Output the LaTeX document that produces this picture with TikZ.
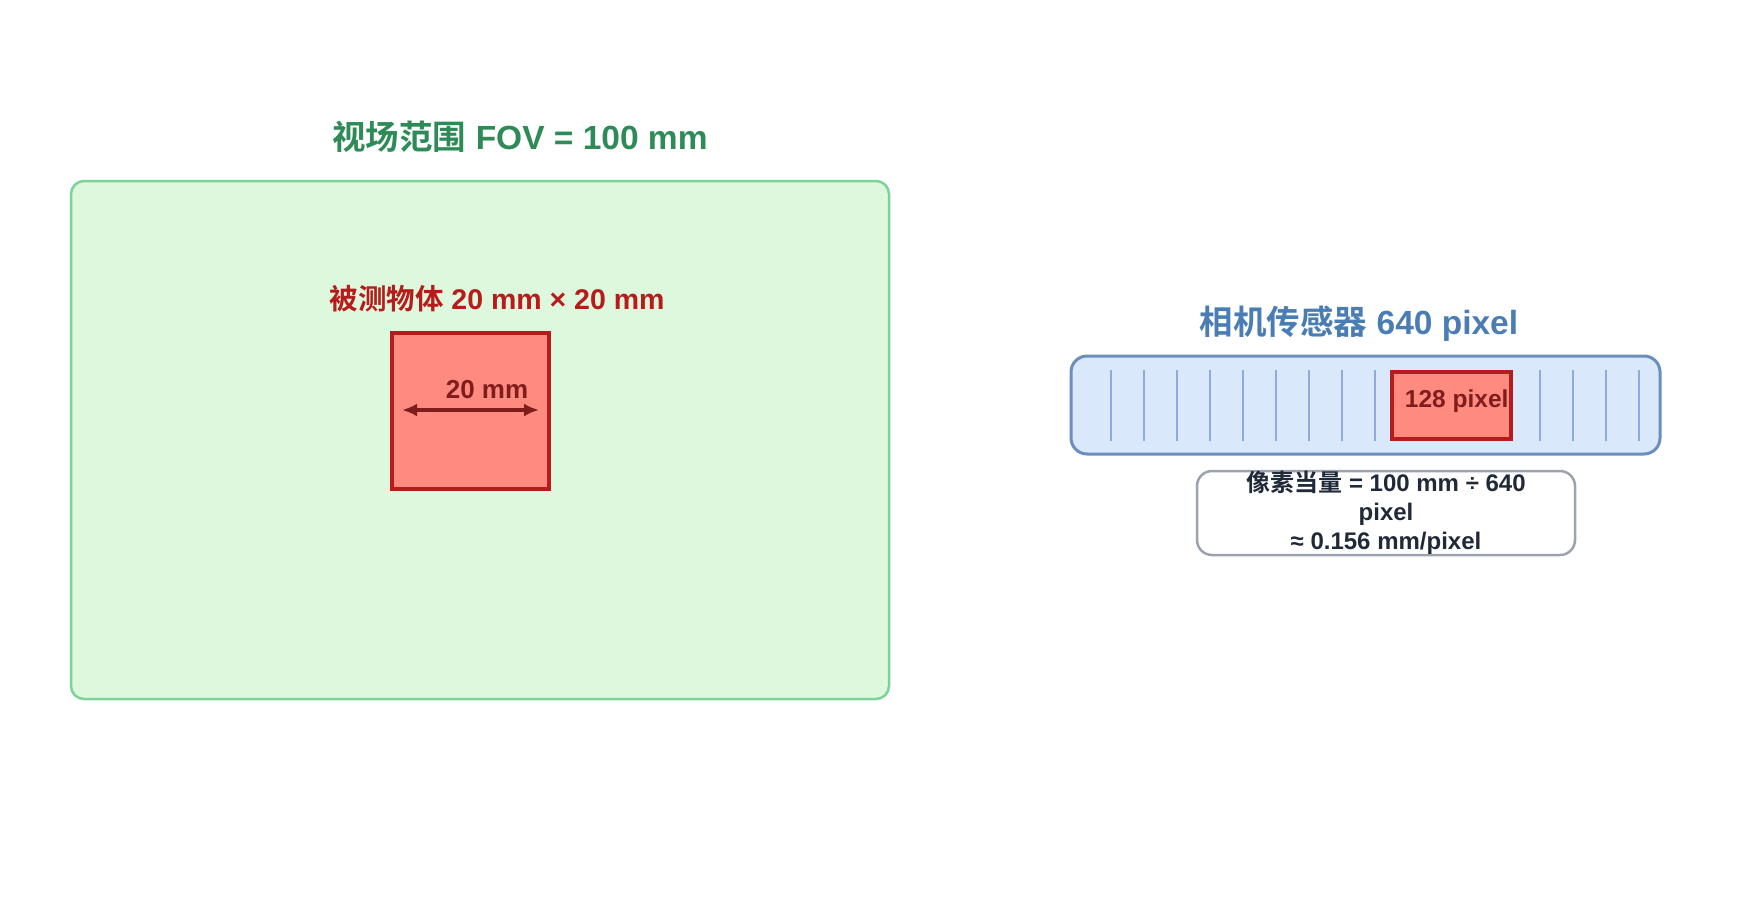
\documentclass[tikz,border=0pt]{standalone}
\usepackage{fontspec}
\setmainfont{Liberation Sans}
\newfontfamily\cjk{Noto Sans CJK SC}[BoldFont={Noto Sans CJK SC Bold}]
\usepackage{xcolor}
\usepackage{tikz}
\usetikzlibrary{calc, arrows.meta, positioning}

\definecolor{fovfill}{RGB}{222,248,222}
\definecolor{fovline}{RGB}{125,210,150}
\definecolor{fovtext}{RGB}{46,139,87}
\definecolor{objfill}{RGB}{255,138,128}
\definecolor{objline}{RGB}{183,28,28}
\definecolor{objdark}{RGB}{127,29,29}
\definecolor{senfill}{RGB}{218,232,252}
\definecolor{senline}{RGB}{108,142,191}
\definecolor{sentext}{RGB}{74,125,180}
\definecolor{pixline}{RGB}{143,170,220}
\definecolor{formline}{RGB}{156,163,175}
\definecolor{formtext}{RGB}{31,41,55}

\tikzset{
    bigtitle/.style={font=\fontsize{33.5}{40}\selectfont\bfseries, anchor=base},
    midlabel/.style={font=\fontsize{28.5}{34}\selectfont\bfseries, anchor=base},
    fovbox/.style={draw=fovline, fill=fovfill, line width=2.5pt, rounded corners=13pt, inner sep=0pt},
    objbox/.style={draw=objline, fill=objfill, line width=4pt, inner sep=0pt},
    senbox/.style={draw=senline, fill=senfill, line width=3pt, rounded corners=16pt, inner sep=0pt},
    formbox/.style={draw=formline, fill=white, line width=2.5pt, rounded corners=15pt, inner sep=0pt,
        align=center, text=formtext, font=\fontsize{24}{29}\selectfont\bfseries},
    dimarrow/.style={{Latex[length=15pt,width=13pt]}-{Latex[length=15pt,width=13pt]}, draw=objdark, line width=3.5pt}
}

\begin{document}
\begin{tikzpicture}[x=1pt, y=-1pt]
    \useasboundingbox (0,0) rectangle (1760,900);
    % Field of view
    \node[fovbox, minimum width=818pt, minimum height=518pt] (fov) at (480,440) {};
    \node[bigtitle, text=fovtext] (fovtitle) at (520,149.3) {{\cjk 视场范围} FOV = 100 mm};
    % Object
    \node[midlabel, text=objline] (objtitle) at (497,309.3) {{\cjk 被测物体} 20 mm × 20 mm};
    \node[objbox, minimum width=157pt, minimum height=156pt] (obj) at (470.5,411) {};
    \coordinate (dimL) at (402,410);
    \coordinate (dimR) at (539,410);
    \draw[dimarrow] (dimL) -- (dimR);
    \node[font=\fontsize{26}{31}\selectfont\bfseries, text=objdark, anchor=base] (objdim) at (487,398.3) {20 mm};
    % Camera sensor
    \node[bigtitle, text=sentext] (sentitle) at (1359,334.3) {{\cjk 相机传感器} 640 pixel};
    \node[senbox, minimum width=589pt, minimum height=98pt] (sensor) at (1365.5,405) {};
    \foreach \k in {0,...,16}
        \draw[pixline, line width=2pt] (1110.7+33*\k,370) -- (1110.7+33*\k,440.7);
    \node[objbox, minimum width=119pt, minimum height=66.4pt] (pix) at (1451.5,405.5) {};
    \node[font=\fontsize{24.5}{29}\selectfont\bfseries, text=objdark, anchor=base] (pixlabel) at (1456.7,407.3) {128 pixel};
    % Pixel equivalent
    \node[formbox, minimum width=378pt, minimum height=84pt] (formula) at (1386,513)
        {{\cjk 像素当量} = 100 mm ÷ 640\\pixel\\≈ 0.156 mm/pixel};
\end{tikzpicture}
\end{document}
